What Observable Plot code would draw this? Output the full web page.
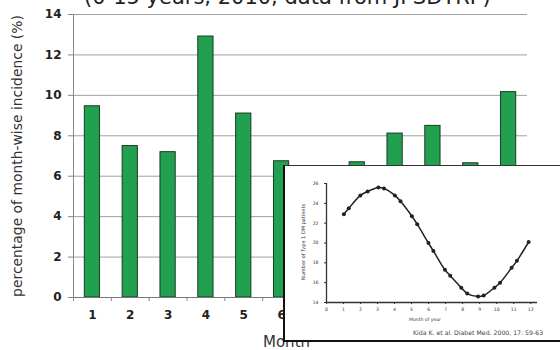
<!DOCTYPE html>
<html>
<head>
<meta charset="utf-8">
<script src="https://cdn.jsdelivr.net/npm/d3@7"></script>
<script src="https://cdn.jsdelivr.net/npm/@observablehq/plot@0.6"></script>
<style>
  html, body { margin: 0; padding: 0; background: #fff; }
  body { width: 560px; height: 350px; overflow: hidden; position: relative; font-family: "DejaVu Sans", Verdana, sans-serif; }
  .abs { position: absolute; white-space: nowrap; }
  #main { position: absolute; left: 0; top: 0; }
  #inset { position: absolute; left: 283px; top: 165px; width: 290px; height: 174px;
           background: #fff; border-left: 2px solid #111; border-top: 1px solid #333; border-bottom: 2px solid #111; }
  #insetPlot { position: absolute; left: 0; top: 0; }
</style>
</head>
<body>
<div id="main"></div>
<div class="abs" id="title" style="left:84px; top:-13px; font-size:21px; color:#222; line-height:1;">(0-15 years, 2010, data from JPSDTRP)</div>
<div class="abs" id="ylab" style="left:17px; top:156px; font-size:13.9px; color:#333; transform: translate(-50%,-50%) rotate(-90deg);">percentage of month-wise incidence (%)</div>
<div class="abs" id="xlab" style="left:263px; top:335px; font-size:15px; color:#333; line-height:1;">Month</div>
<div id="inset">
  <div id="insetPlot"></div>
  <div class="abs" style="left:17.7px; top:76px; font-size:5px; color:#333; transform: translate(-50%,-50%) rotate(-90deg);">Number of Type 1 DM patients</div>
  <div class="abs" style="left:140px; top:153px; font-size:4.6px; color:#333; transform: translate(-50%,-50%);">Month of year</div>
  <div class="abs" style="left:128px; top:166px; font-size:6.2px; color:#444; transform: translateY(-50%);">Kida K. et al. Diabet Med. 2000, 17: 59-63</div>
</div>
<script>
// ---- main bar chart data ----
const months = [1, 2, 3, 4, 5, 6, 7, 8, 9, 10, 11, 12];
const incidence = [9.46, 7.49, 7.19, 12.91, 9.10, 6.74, 6.3, 6.69, 8.11, 8.49, 6.64, 10.16];
const yTicks = [0, 2, 4, 6, 8, 10, 12, 14];
const bandEdges = [0.5, 1.5, 2.5, 3.5, 4.5, 5.5, 6.5, 7.5, 8.5, 9.5, 10.5, 11.5, 12.5];

// ---- inset line chart data ----
const monthOfYear = [1.02, 1.31, 1.99, 2.42, 3.05, 3.38, 4.02, 4.35, 5.02, 5.33, 5.99, 6.28, 6.96, 7.27, 7.92, 8.27, 8.91, 9.24, 9.87, 10.2, 10.88, 11.19, 11.88];
const patients = [22.9, 23.5, 24.8, 25.2, 25.6, 25.5, 24.8, 24.2, 22.7, 21.9, 20.0, 19.2, 17.3, 16.7, 15.5, 14.9, 14.6, 14.7, 15.5, 16.0, 17.5, 18.2, 20.1];
const insetXTicks = [0, 1, 2, 3, 4, 5, 6, 7, 8, 9, 10, 11, 12];
const insetYTicks = [14, 16, 18, 20, 22, 24, 26];

const bars = months.map((m, i) => ({month: m, value: incidence[i]}));
const curve = monthOfYear.map((m, i) => ({m, v: patients[i]}));

const main = Plot.plot({
  width: 560, height: 350,
  marginTop: 14, marginBottom: 53, marginLeft: 73, marginRight: 33,
  style: {fontFamily: "DejaVu Sans, Verdana, sans-serif", background: "transparent"},
  x: {domain: [0.5, 12.5], axis: null},
  y: {domain: [0, 14], axis: null},
  marks: [
    Plot.ruleY(yTicks.filter(d => d > 0), {stroke: "#a0a0a0", strokeWidth: 1}),
    Plot.ruleX([0.5], {stroke: "#888", strokeWidth: 1}),
    Plot.axisY(yTicks, {tickSize: 5, stroke: "#888", fill: "none", label: null}),
    Plot.axisY(yTicks, {tickSize: 0, tickPadding: 12, fontSize: 12, fontWeight: "bold", fill: "#222", label: null}),
    Plot.rectY(bars, {x1: d => d.month - 0.5, x2: d => d.month + 0.5, y: "value",
      insetLeft: 11.3, insetRight: 11.3, fill: "#21a050", stroke: "#1a3a22", strokeWidth: 1}),
    Plot.ruleY([0], {stroke: "#777", strokeWidth: 1}),
    Plot.axisX(bandEdges, {tickSize: 4, stroke: "#888", fill: "none", label: null}),
    Plot.axisX(months, {tickSize: 0, tickPadding: 13, fontSize: 12, fontWeight: "bold", fill: "#222", label: null})
  ]
});
document.getElementById("main").appendChild(main);

const inset = Plot.plot({
  width: 275, height: 174,
  marginTop: 17, marginBottom: 38, marginLeft: 41, marginRight: 23,
  style: {fontFamily: "DejaVu Sans, Verdana, sans-serif", background: "transparent"},
  x: {domain: [0, 12.4], axis: null},
  y: {domain: [14, 26], axis: null},
  marks: [
    Plot.ruleX([0], {stroke: "#333", strokeWidth: 1.3}),
    Plot.ruleY([14], {stroke: "#333", strokeWidth: 1.3}),
    Plot.axisX(insetXTicks, {tickSize: 2, tickPadding: 3, fontSize: 4.6, fill: "#333", stroke: "#333", label: null}),
    Plot.axisY(insetYTicks, {tickSize: 2, tickPadding: 6, fontSize: 4.6, fill: "#333", stroke: "#333", label: null}),
    Plot.line(curve, {x: "m", y: "v", curve: "catmull-rom", stroke: "#222", strokeWidth: 1.5}),
    Plot.dot(curve, {x: "m", y: "v", r: 2, fill: "#222", stroke: "none"})
  ]
});
document.getElementById("insetPlot").appendChild(inset);
</script>
</body>
</html>
